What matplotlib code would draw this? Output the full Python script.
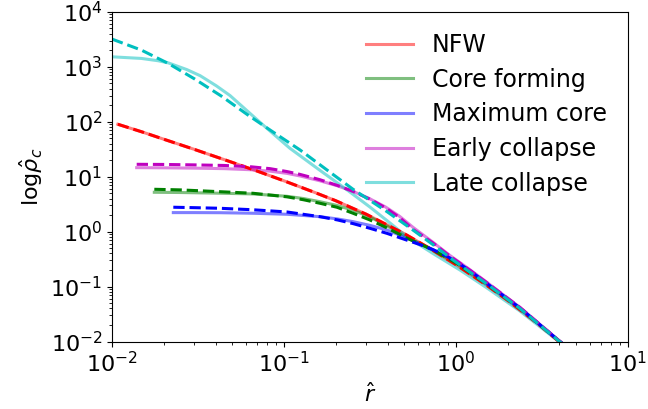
import matplotlib
matplotlib.use("Agg")
import matplotlib.pyplot as plt

plt.rcParams['font.size'] = 16

labels = ["NFW", "Core forming", "Maximum core", "Early collapse", "Late collapse"]
colors = ['r', 'g', 'b', 'm', 'c']

# NFW (same curve for solid and dashed)
r_nfw = [0.0108, 0.015, 0.02, 0.03, 0.05, 0.07, 0.1, 0.15, 0.2, 0.3, 0.5, 0.7, 1.0, 1.5, 2.0, 3.0, 4.0, 5.0]
rho_nfw = [90, 65, 48, 31.5, 18.2, 12.6, 8.4, 5.2, 3.65, 2.08, 0.92, 0.50, 0.25, 0.107, 0.056, 0.021, 0.0098, 0.0056]

# core forming
r_core = [0.0176, 0.025, 0.0425, 0.066, 0.104, 0.13, 0.162, 0.203, 0.252, 0.316, 0.397, 0.519, 0.735, 1.0, 1.5, 2.35, 4.0, 5.0]
rho_core_a = [5.2, 5.15, 5.0, 4.85, 4.4, 4.0, 3.5, 3.0, 2.45, 1.85, 1.27, 0.79, 0.46, 0.265, 0.112, 0.040, 0.0101, 0.0058]
rho_core_b = [5.9, 5.75, 5.33, 4.99, 4.3, 3.8, 3.28, 2.78, 2.16, 1.63, 1.17, 0.76, 0.465, 0.27, 0.113, 0.040, 0.0101, 0.0058]

# maximum core
r_max = [0.0227, 0.03, 0.0425, 0.066, 0.104, 0.162, 0.205, 0.252, 0.316, 0.397, 0.492, 0.618, 0.735, 0.887, 1.0, 1.2, 1.5, 2.35, 4.0, 5.0]
rho_max_a = [2.22, 2.22, 2.21, 2.16, 2.07, 1.87, 1.70, 1.52, 1.30, 1.07, 0.82, 0.60, 0.47, 0.35, 0.285, 0.197, 0.116, 0.041, 0.0101, 0.0058]
rho_max_b = [2.78, 2.73, 2.66, 2.50, 2.28, 1.87, 1.63, 1.40, 1.15, 0.93, 0.74, 0.58, 0.47, 0.355, 0.285, 0.197, 0.116, 0.041, 0.0101, 0.0058]

# early collapse
r_early = [0.0139, 0.02, 0.03, 0.045, 0.0634, 0.083, 0.104, 0.124, 0.162, 0.205, 0.252, 0.316, 0.39, 0.47, 0.562, 0.735, 0.92, 1.2, 1.5, 2.35, 4.0, 5.0]
rho_early_a = [14.6, 14.5, 14.3, 14.0, 13.4, 12.6, 11.5, 10.3, 8.4, 6.8, 5.4, 3.95, 2.8, 1.9, 1.2, 0.64, 0.37, 0.205, 0.122, 0.042, 0.0102, 0.0058]
rho_early_b = [16.8, 16.7, 16.4, 16.0, 15.2, 14.0, 12.4, 11.0, 8.8, 6.9, 5.4, 3.9, 2.7, 1.8, 1.1, 0.62, 0.36, 0.20, 0.12, 0.042, 0.0102, 0.0058]

# late collapse
r_late_a = [0.01, 0.0148, 0.0185, 0.0212, 0.0272, 0.0325, 0.0404, 0.0485, 0.0724, 0.108, 0.162, 0.23, 0.316, 0.42, 0.519, 0.735, 1.055, 1.51, 2.35, 4.0, 5.0]
rho_late_a = [1520, 1420, 1290, 1180, 890, 690, 450, 300, 98, 33, 13.0, 5.9, 2.8, 1.38, 0.80, 0.40, 0.20, 0.095, 0.036, 0.0098, 0.0056]
r_late_b = [0.01, 0.0148, 0.0212, 0.0303, 0.0432, 0.0618, 0.083, 0.124, 0.178, 0.252, 0.397, 0.562, 0.735, 0.962, 1.2, 1.51, 2.35, 4.0, 5.0]
rho_late_b = [3190, 2014, 1153, 597, 293, 132, 70.6, 30.6, 13.2, 5.9, 2.31, 1.07, 0.58, 0.305, 0.185, 0.112, 0.040, 0.0100, 0.0057]

solid = [(r_nfw, rho_nfw), (r_core, rho_core_a), (r_max, rho_max_a),
         (r_early, rho_early_a), (r_late_a, rho_late_a)]
dashed = [(r_nfw, rho_nfw), (r_core, rho_core_b), (r_max, rho_max_b),
          (r_early, rho_early_b), (r_late_b, rho_late_b)]

fig = plt.figure(figsize=(6.48, 4.09), dpi=100)
ax = fig.add_subplot(111)
fig.subplots_adjust(left=0.173, right=0.969, top=0.971, bottom=0.165)

for (x, y), c, lab in zip(solid, colors, labels):
    ax.plot(x, y, c + '-', lw=2.2, alpha=0.5, label=lab)
for (x, y), c in zip(dashed, colors):
    ax.plot(x, y, c + '--', lw=2.2)

ax.set_xscale('log')
ax.set_yscale('log')
ax.set_xlim(1e-2, 1e1)
ax.set_ylim(1e-2, 1e4)
ax.set_xlabel(r'$\hat{r}$')
ax.set_ylabel(r'log$\hat{\rho}_c$')
ax.legend(loc='upper right', frameon=False, fontsize=17, labelspacing=0.45)

fig.savefig('out.png', dpi=100)
